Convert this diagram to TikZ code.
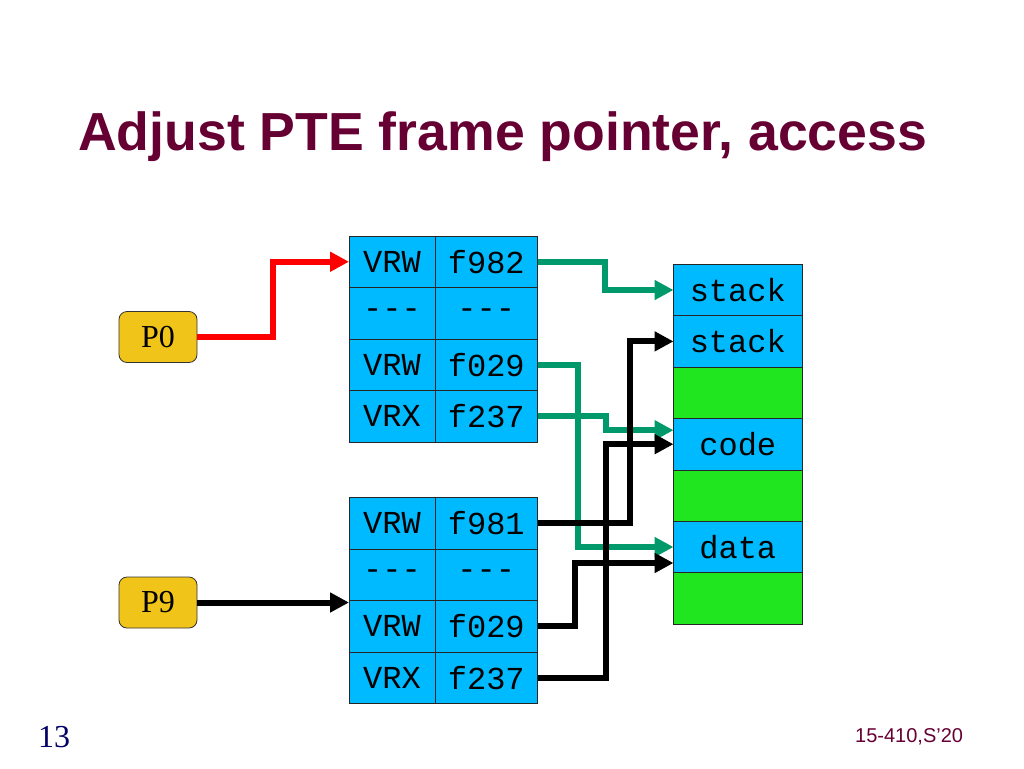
\documentclass[tikz,border=0pt]{standalone}
\usepackage{fontspec}
\setmainfont{Liberation Serif}
\setsansfont{Liberation Sans}
\setmonofont{Liberation Mono}
\usetikzlibrary{arrows.meta}

\definecolor{titlered}{RGB}{102,0,51}
\definecolor{cellblue}{RGB}{0,186,255}
\definecolor{memgreen}{RGB}{32,230,32}
\definecolor{procyellow}{RGB}{240,196,24}
\definecolor{linkgreen}{RGB}{0,153,107}
\definecolor{pagenavy}{RGB}{0,0,102}

\tikzset{
  cell/.style={draw=black!85, line width=0.8pt, fill=cellblue, anchor=north west,
    inner sep=0pt, outer sep=0pt, minimum height=51.5pt, font=\fontsize{32}{32}\ttfamily},
  flagcell/.style={cell, minimum width=86pt},
  framecell/.style={cell, minimum width=102.5pt},
  memcell/.style={cell, minimum width=128.5pt, minimum height=51.4pt},
  freecell/.style={memcell, fill=memgreen},
  proc/.style={draw=black!80, line width=0.8pt, fill=procyellow, rounded corners=8pt,
    minimum width=78pt, minimum height=51pt, inner sep=0pt, outer sep=0pt,
    font=\fontsize{32}{32}\selectfont},
  link/.style={line width=6pt, -{Triangle[length=19pt,width=19pt]}}
}

\begin{document}
\begin{tikzpicture}[x=1pt,y=-1pt]
        \useasboundingbox (0,0) rectangle (1024,768);

        % Titulo
        \node[anchor=base west, inner sep=0pt, text=titlered,
          font=\fontsize{53.6}{60}\sffamily\bfseries] (title) at (78,150)
          {Adjust PTE frame pointer, access};

        % Procesos
        \node[proc] (p0) at (158,337) {P0};
        \node[proc] (p9) at (158,602.5) {P9};

        % Tabla de paginas de P0
        \node[flagcell] (a1) at (349,236) {VRW};
        \node[framecell] (b1) at (435,236) {f982};
        \node[flagcell] (a2) at (349,287.5) {-{}-{}-};
        \node[framecell] (b2) at (435,287.5) {-{}-{}-};
        \node[flagcell] (a3) at (349,339) {VRW};
        \node[framecell] (b3) at (435,339) {f029};
        \node[flagcell] (a4) at (349,390.5) {VRX};
        \node[framecell] (b4) at (435,390.5) {f237};

        % Tabla de paginas de P9
        \node[flagcell] (c1) at (349,497.5) {VRW};
        \node[framecell] (d1) at (435,497.5) {f981};
        \node[flagcell] (c2) at (349,549) {-{}-{}-};
        \node[framecell] (d2) at (435,549) {-{}-{}-};
        \node[flagcell] (c3) at (349,600.5) {VRW};
        \node[framecell] (d3) at (435,600.5) {f029};
        \node[flagcell] (c4) at (349,652) {VRX};
        \node[framecell] (d4) at (435,652) {f237};

        % Memoria fisica
        \node[memcell] (m1) at (673.5,264.3) {stack};
        \node[memcell] (m2) at (673.5,315.7) {stack};
        \node[freecell] (m3) at (673.5,367.1) {};
        \node[memcell] (m4) at (673.5,418.5) {code};
        \node[freecell] (m5) at (673.5,469.9) {};
        \node[memcell] (m6) at (673.5,521.3) {data};
        \node[freecell] (m7) at (673.5,572.7) {};

        % Punteros de P0
        \draw[link, red] (p0.east) -- ++(76,0) |- (a1.west);
        \draw[link, linkgreen] (b1.east) -- ++(67.5,0) |- (m1.west);
        \draw[link, linkgreen] (b3.east) -- ++(40,0) |- (m6.west);
        \draw[link, linkgreen] (b4.east) -- ++(68,0) |- ([yshift=14pt]m4.west);

        % Punteros de P9
        \draw[link] (p9.east) -- (p9.east -| c3.west);
        \draw[link] (d1.east) -- ++(92.5,0) |- (m2.west);
        \draw[link] (d3.east) -- ++(37.5,0) |- ([yshift=-16pt]m6.west);
        \draw[link] (d4.east) -- ++(68.5,0) |- (m4.west);

        % Pie
        \node[anchor=base west, inner sep=0pt, text=pagenavy,
          font=\fontsize{32}{32}\selectfont] (slidenum) at (38,747) {13};
        \node[anchor=base west, inner sep=0pt, text=titlered,
          font=\fontsize{20}{20}\sffamily] (course) at (855,742) {15-410,S'20};

    \end{tikzpicture}
\end{document}
